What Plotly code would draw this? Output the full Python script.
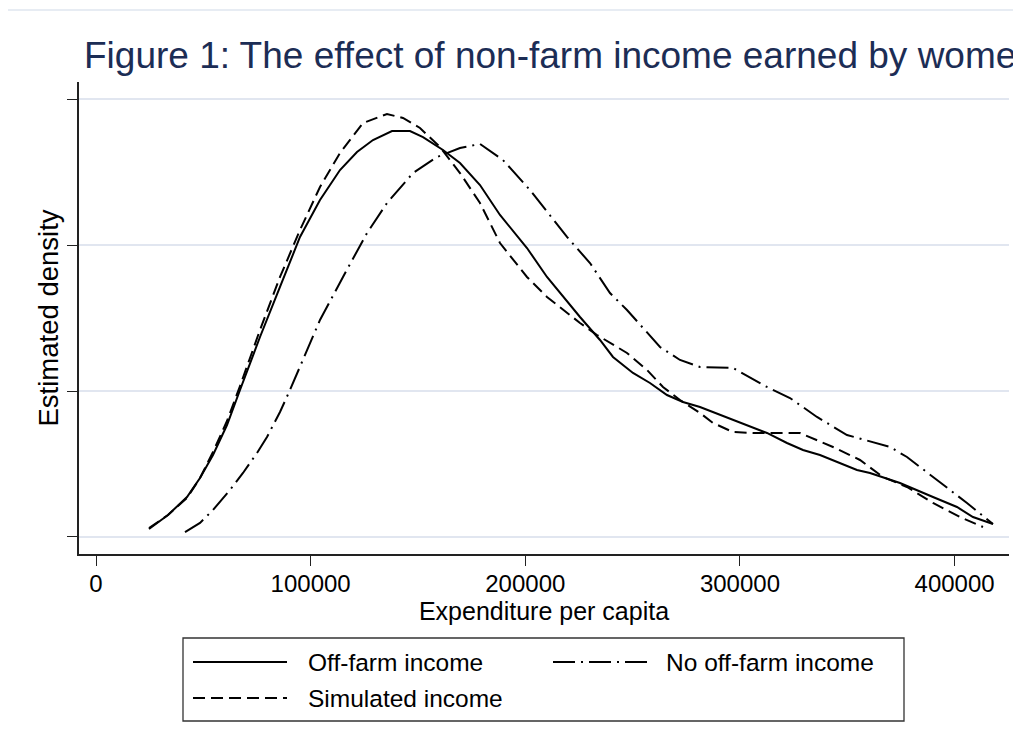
import plotly.graph_objects as go

# ---------------- data (density in units of 1e-6) ----------------
x_offfarm = [24692, 33543, 42394, 48450, 54507, 61029, 67085, 76402, 85720, 95037,
             104354, 113672, 121592, 129045, 137897, 146283, 152339, 161657, 169576, 178894,
             188211, 200790, 210107, 225481, 234798, 240854, 250172, 258091, 266011, 273465,
             281385, 296759, 312599, 321916, 329370, 337290, 354527, 360584, 374560, 389934,
             401115, 408569, 417886]
y_offfarm = [0.110, 0.301, 0.548, 0.808, 1.123, 1.534, 2.014, 2.740, 3.425, 4.110,
             4.616, 5.027, 5.274, 5.438, 5.562, 5.562, 5.479, 5.301, 5.123, 4.822,
             4.411, 3.959, 3.562, 3.014, 2.699, 2.466, 2.247, 2.110, 1.945, 1.849,
             1.781, 1.603, 1.425, 1.288, 1.192, 1.123, 0.918, 0.877, 0.740, 0.548,
             0.411, 0.274, 0.178]

x_nooff = [41462, 48450, 54507, 62427, 68482, 75005, 79664, 85720, 90379, 98299,
           104354, 115069, 126250, 135568, 147681, 158862, 169576, 178894, 189609, 202187,
           219425, 230140, 239457, 247377, 256694, 262751, 272068, 281385, 296759, 312599,
           323313, 335892, 349868, 369901, 377819, 389934, 405774, 417886]
y_nooff = [0.068, 0.192, 0.370, 0.644, 0.877, 1.151, 1.370, 1.712, 2.014, 2.562,
           2.973, 3.562, 4.164, 4.575, 4.986, 5.205, 5.329, 5.384, 5.164, 4.753,
           4.110, 3.753, 3.342, 3.110, 2.795, 2.603, 2.425, 2.329, 2.315, 2.055,
           1.904, 1.644, 1.397, 1.233, 1.096, 0.822, 0.466, 0.178]

x_sim = [24692, 33543, 42394, 48450, 54507, 61029, 67085, 76402, 85720, 95037,
         104354, 113672, 124387, 135568, 143022, 150942, 160259, 169576, 178894, 188211,
         200790, 210107, 225481, 233401, 247377, 256694, 264148, 272068, 281385, 287441,
         296759, 306076, 323313, 327971, 343345, 355923, 366638, 377819, 389934, 402512,
         413227]
y_sim = [0.123, 0.301, 0.534, 0.808, 1.164, 1.589, 2.068, 2.836, 3.562, 4.205,
         4.795, 5.260, 5.671, 5.795, 5.740, 5.603, 5.342, 4.986, 4.575, 4.027,
         3.562, 3.288, 2.932, 2.767, 2.521, 2.288, 2.055, 1.877, 1.699, 1.562,
         1.438, 1.425, 1.425, 1.425, 1.233, 1.055, 0.822, 0.685, 0.466, 0.274,
         0.137]

x_ticks = [0, 100000, 200000, 300000, 400000]
x_ticktext = ["0", "100000", "200000", "300000", "400000"]
y_ticks = [0, 2, 4, 6]

series_names = ["Off-farm income", "No off-farm income", "Simulated income"]

TITLE = "Figure 1: The effect of non-farm income earned by wome"
XTITLE = "Expenditure per capita"
YTITLE = "Estimated density"

# ---------------- layout geometry ----------------
W, H = 1021, 749
OFF = 8                      # page body margin of the html page
PL, PT, PR, PB = 79, 82, 1009, 554   # plot box in screen pixels
L = PL - OFF
T = PT - OFF
R = W - (PR - OFF)
B = H - (PB - OFF)
PW, PH = W - L - R, H - T - B


def px(xs):
    return (xs - OFF - L) / PW


def py(ys):
    return (H - B - (ys - OFF)) / PH


FONT = "Liberation Sans, Arial, sans-serif"
DASH = "12px,6px"
DASHDOT = "22px,6px,2px,6px"

fig = go.Figure()
fig.add_trace(go.Scatter(x=x_offfarm, y=y_offfarm, mode="lines", name=series_names[0],
                         line=dict(color="black", width=2), showlegend=False))
fig.add_trace(go.Scatter(x=x_nooff, y=y_nooff, mode="lines", name=series_names[1],
                         line=dict(color="black", width=2, dash=DASHDOT), showlegend=False))
fig.add_trace(go.Scatter(x=x_sim, y=y_sim, mode="lines", name=series_names[2],
                         line=dict(color="black", width=2, dash=DASH), showlegend=False))

fig.update_layout(
    width=W, height=H,
    margin=dict(l=L, r=R, t=T, b=B, autoexpand=False),
    paper_bgcolor="white", plot_bgcolor="white",
    font=dict(family=FONT, color="black"),
    title=dict(text=TITLE, x=(84 - OFF) / W, xanchor="left", xref="container",
               y=1 - (55 - OFF) / H, yanchor="middle", yref="container",
               font=dict(size=37, color="#1c2d55", family=FONT)),
)

fig.update_xaxes(range=[-7920, 425350], showgrid=False, zeroline=False,
                 showline=True, linecolor="#222", linewidth=1.5,
                 ticks="outside", ticklen=10, tickwidth=1.3, tickcolor="#222",
                 tickvals=x_ticks, ticktext=x_ticktext, ticklabelstandoff=-3,
                 tickfont=dict(size=24, color="black"),
                 title=dict(text=XTITLE, font=dict(size=25, color="black"), standoff=0))
fig.update_yaxes(range=[-0.233, 6.233], showgrid=True, gridcolor="#e1e6f0", gridwidth=2,
                 zeroline=False, showline=True, linecolor="#222", linewidth=1.5,
                 ticks="outside", ticklen=10, tickwidth=1.3, tickcolor="#222",
                 tickvals=y_ticks, showticklabels=False,
                 title=dict(text=YTITLE, font=dict(size=27.5, color="black"), standoff=1))

# outer graph frame
fig.add_shape(type="rect", xref="paper", yref="paper",
              x0=px(7), x1=px(1060), y0=py(790), y1=py(10),
              line=dict(color="#dfe6ef", width=1.5), layer="below")

# legend box
fig.add_shape(type="rect", xref="paper", yref="paper",
              x0=px(183), x1=px(904), y0=py(721), y1=py(638),
              line=dict(color="#333", width=1.3), fillcolor="white")

legend_items = [
    (series_names[0], None, 193, 287, 306, 662),
    (series_names[1], DASHDOT, 553, 651, 664, 662),
    (series_names[2], DASH, 193, 287, 306, 698),
]
for name, dash, lx0, lx1, tx, ty in legend_items:
    ln = dict(color="black", width=2)
    if dash:
        ln["dash"] = dash
    fig.add_shape(type="line", xref="paper", yref="paper",
                  x0=px(lx0), x1=px(lx1), y0=py(ty), y1=py(ty), line=ln)
    fig.add_annotation(text=name, xref="paper", yref="paper", x=px(tx), y=py(ty),
                       xanchor="left", yanchor="middle", showarrow=False,
                       font=dict(size=24.5, color="black", family=FONT))

fig.write_html("out.html")
